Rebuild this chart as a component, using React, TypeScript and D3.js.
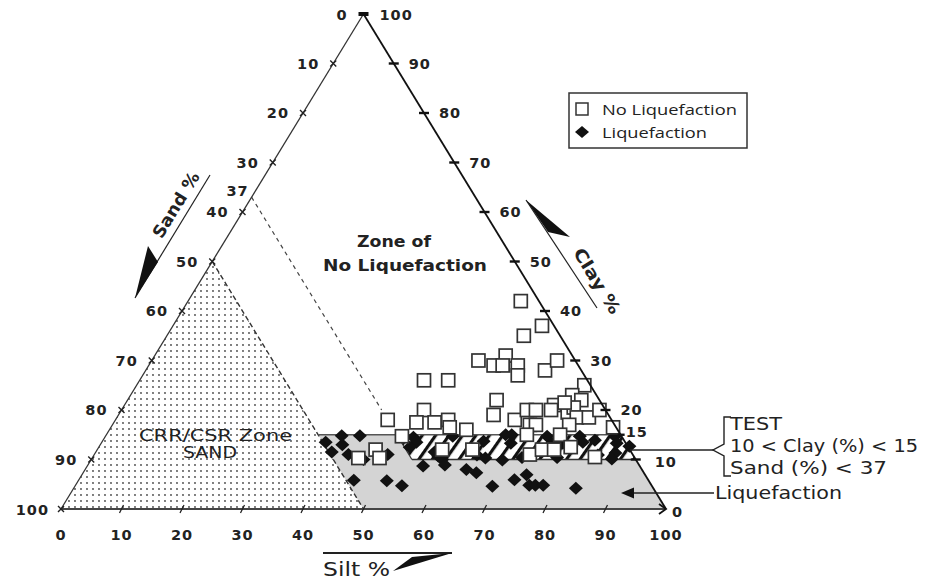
import React from "react";
import * as d3 from "d3";

// ---- axis ticks / labels ----
const siltTicks = [0, 10, 20, 30, 40, 50, 60, 70, 80, 90, 100];
const sandTicks = [10, 20, 30, 40, 50, 60, 70, 80, 90, 100];
const clayTicks = [10, 20, 30, 40, 50, 60, 70, 80, 90];
const sandLabels = [10, 20, 30, 40, 50, 60, 70, 80, 90];
const clayLabels = [20, 30, 40, 50, 60, 70, 80, 90];

// ---- zone limits (percent) ----
const sandLimitCRR = 50;
const sandLimitTest = 37;
const clayUpper = 15;
const clayLower = 10;
const dashedClayEnd = 20;

// ---- data: [silt %, clay %] ----
const noLiquefaction: [number, number][] = [
  [55, 42], [61, 37], [59, 35], [54, 30], [57, 29], [58, 31], [58.5, 29], [61, 29], [62, 27], [66, 28], [67, 30],
  [47, 26], [51, 26], [61, 22], [74, 25], [73, 23], [75, 22], [71, 21], [62, 19], [50, 20], [45, 18], [66, 18],
  [67, 20], [68.5, 20], [69, 17], [70, 17], [74, 19.5], [74.5, 20.5], [72.5, 21.5], [76, 18.5], [78, 18.5],
  [79, 20], [83, 16.5], [50, 17.5], [53, 17.5], [55, 18], [56, 16.5], [59, 16], [71, 20], [75.5, 17],
  [69.5, 15], [75, 15], [78, 12.5], [72, 11], [73.5, 12], [75.5, 12], [83, 10.5], [49, 14.7], [46, 12],
  [44, 10.3], [47.5, 10.3], [57, 12], [62, 12],
];
const liquefaction: [number, number][] = [
  [37, 13.5], [39, 14.8], [40, 13], [42, 14.8], [39, 11.5], [42, 11], [45, 10], [48.5, 11], [45.5, 5.8], [51, 5.7],
  [54, 4.7], [55.5, 8.7], [51, 14.5], [52, 13.5], [51.4, 12.5], [56, 11.5], [57, 10.7], [58, 10], [59, 8.9],
  [57.4, 14.7], [63, 8], [65, 7.3], [63, 13.7], [63.3, 10.9], [65, 10.3], [69, 4.6], [66, 15], [67.7, 13.3],
  [68, 9.9], [72, 5.9], [71, 10.4], [73.5, 6.9], [75, 4.8], [76, 4.8], [77.3, 4.8], [73, 14.7], [74.5, 13.3],
  [73.7, 11.5], [76.8, 10.4], [76.3, 13.3], [83, 4.2], [78.4, 14.7], [79.5, 13.5], [81.3, 13.9], [84.2, 14.7],
  [86, 11.3], [83.3, 10.9], [87.6, 12.7], [86, 10.1], [85.2, 13.3], [67, 15],
];

const FONT = "'DejaVu Sans', Verdana, sans-serif";

export default function App() {
  const x = d3.scaleLinear().domain([0, 100]).range([61, 666]);
  const y = d3.scaleLinear().domain([0, 100]).range([509, 14]);
  const P = (silt: number, clay: number): [number, number] => [x(silt + clay / 2), y(clay)];
  const S = (sand: number, clay: number): [number, number] => P(100 - sand - clay, clay);
  const line = d3.line();
  const poly = (pts: [number, number][]) => line(pts) + "Z";

  const top = P(0, 100);
  const bl = P(0, 0);
  const br = P(100, 0);

  const dotted = poly([P(0, 0), S(sandLimitCRR, 100 - sandLimitCRR), S(sandLimitCRR, 0)]);
  const gray = poly([S(sandLimitCRR, clayUpper), P(100 - clayUpper, clayUpper), P(100, 0), S(sandLimitCRR, 0)]);
  const hatch = poly([S(sandLimitTest, clayUpper), P(100 - clayUpper, clayUpper), P(100 - clayLower, clayLower), S(sandLimitTest, clayLower)]);

  const edgeAngle = (Math.atan2(top[1] - bl[1], top[0] - bl[0]) * 180) / Math.PI; // ~ -58.6

  return (
    <svg width={926} height={579} style={{ position: "absolute", left: 0, top: 0, background: "#fff" }} fontFamily={FONT}>
      <defs>
        <pattern id="dots" width={6} height={6} patternUnits="userSpaceOnUse">
          <rect width={6} height={6} fill="#fff" />
          <circle cx={3} cy={3} r={0.9} fill="#444" />
        </pattern>
        <pattern id="hatch" width={11} height={11} patternUnits="userSpaceOnUse" patternTransform="rotate(35)">
          <rect width={11} height={11} fill="#fff" />
          <rect x={0} y={0} width={3.2} height={11} fill="#111" />
        </pattern>
      </defs>
      <rect width={926} height={579} fill="#fff" />

      {/* zones */}
      <path d={dotted} fill="url(#dots)" />
      <path d={gray} fill="#d4d4d4" />
      <path d={hatch} fill="url(#hatch)" />

      {/* zone boundary lines */}
      <path d={line([S(sandLimitCRR, 100 - sandLimitCRR), S(sandLimitCRR, 0)])!} stroke="#333" strokeWidth={1.4} strokeDasharray="5,3" fill="none" />
      <path d={line([S(sandLimitTest, 100 - sandLimitTest), S(sandLimitTest, dashedClayEnd)])!} stroke="#444" strokeWidth={1.2} strokeDasharray="4,4" fill="none" />
      <path d={line([S(sandLimitCRR, clayUpper), P(100 - clayUpper, clayUpper)])!} stroke="#555" strokeWidth={1.6} fill="none" />
      <path d={line([S(sandLimitTest, clayLower), P(100 - clayLower, clayLower)])!} stroke="#333" strokeWidth={1.4} fill="none" />
      <path d={line([S(sandLimitTest, clayUpper), S(sandLimitTest, clayLower)])!} stroke="#333" strokeWidth={1.2} fill="none" />

      {/* data points */}
      {liquefaction.map(([s, c], i) => {
        const [px, py] = P(s, c);
        return <path key={"l" + i} d={`M${px},${py - 6.5}L${px + 7},${py}L${px},${py + 6.5}L${px - 7},${py}Z`} fill="#111" />;
      })}
      {noLiquefaction.map(([s, c], i) => {
        const [px, py] = P(s, c);
        return <rect key={"n" + i} x={px - 6.5} y={py - 6.5} width={13} height={13} fill="#fff" stroke="#333" strokeWidth={1.7} />;
      })}

      {/* triangle edges */}
      <path d={line([bl, top])!} stroke="#333" strokeWidth={1.3} fill="none" />
      <path d={line([top, br])!} stroke="#111" strokeWidth={1.8} fill="none" />
      <path d={line([bl, br])!} stroke="#444" strokeWidth={2} fill="none" />

      {/* ticks */}
      {siltTicks.slice(1, -1).map((t) => {
        const [px, py] = P(t, 0);
        return <path key={"st" + t} d={`M${px - 2},${py + 4}L${px + 2},${py - 4}`} stroke="#222" strokeWidth={1.3} />;
      })}
      {sandTicks.map((t) => {
        const [px, py] = S(t, 100 - t);
        return <path key={"sa" + t} d={`M${px - 3},${py - 3}L${px + 3},${py + 3}M${px - 3},${py + 3}L${px + 3},${py - 3}`} stroke="#222" strokeWidth={1.4} />;
      })}
      {clayTicks.map((t) => {
        const [px, py] = P(100 - t, t);
        return <path key={"ct" + t} d={`M${px - 5},${py}L${px + 5},${py}`} stroke="#111" strokeWidth={2.4} />;
      })}
      {(() => {
        const [px, py] = P(100 - clayUpper, clayUpper);
        return <path d={`M${px - 3},${py}L${px + 4},${py}`} stroke="#111" strokeWidth={2.4} />;
      })()}
      <path d={`M${top[0] - 5},${top[1]}L${top[0] + 5},${top[1]}`} stroke="#111" strokeWidth={4} />
      <path d={`M${br[0] - 7},${br[1] - 5}L${br[0]},${br[1]}L${br[0] - 7},${br[1] + 5}`} stroke="#111" strokeWidth={1.8} fill="none" />

      {/* tick labels */}
      <g fontWeight="bold" fontSize={14.5} fill="#222" letterSpacing={1}>
        {siltTicks.map((t) => {
          const [px, py] = P(t, 0);
          return <text key={"sl" + t} x={px} y={py + 31} textAnchor="middle">{t}</text>;
        })}
        {sandLabels.map((t) => {
          const [px, py] = S(t, 100 - t);
          return <text key={"sal" + t} x={px - 14} y={py + 5} textAnchor="end">{t}</text>;
        })}
        {(() => {
          const [px, py] = S(100, 0);
          return <text x={px - 12} y={py + 6} textAnchor="end">100</text>;
        })()}
        {(() => {
          const [px, py] = S(sandLimitTest, 100 - sandLimitTest);
          return <text x={px - 3} y={py - 1} textAnchor="end">{sandLimitTest}</text>;
        })()}
        {clayLabels.map((t) => {
          const [px, py] = P(100 - t, t);
          return <text key={"cl" + t} x={px + 15} y={py + 5}>{t}</text>;
        })}
        {(() => {
          const [px, py] = P(100 - clayUpper, clayUpper);
          return <text x={px + 5} y={py + 2}>{clayUpper}</text>;
        })()}
        {(() => {
          const [px, py] = P(100 - clayLower, clayLower);
          return <text x={px + 19} y={py + 7}>{clayLower}</text>;
        })()}
        <text x={top[0] - 16} y={top[1] + 6} textAnchor="end">0</text>
        <text x={top[0] + 16} y={top[1] + 6}>100</text>
        <text x={br[0] + 6} y={br[1] + 8}>0</text>
      </g>

      {/* zone texts */}
      <text x={357} y={247} fontWeight="bold" fontSize={15} fill="#222" textLength={74} lengthAdjust="spacingAndGlyphs">Zone of</text>
      <text x={323} y={271} fontWeight="bold" fontSize={15} fill="#222" textLength={164} lengthAdjust="spacingAndGlyphs">No Liquefaction</text>
      <text x={139} y={441} fontSize={16} fill="#222" textLength={153} lengthAdjust="spacingAndGlyphs">CRR/CSR Zone</text>
      <text x={183} y={458} fontSize={15} fill="#222" textLength={54} lengthAdjust="spacingAndGlyphs">SAND</text>

      {/* legend */}
      <rect x={569} y={93} width={178} height={55} fill="#fff" stroke="#333" strokeWidth={1.5} />
      <rect x={576} y={103} width={12} height={12} fill="#fff" stroke="#333" strokeWidth={1.5} />
      <path d="M582,126L589,132L582,138L575,132Z" fill="#111" />
      <text x={602} y={115} fontSize={14} fill="#222" fontFamily="'Open Sans', sans-serif" textLength={135} lengthAdjust="spacingAndGlyphs">No Liquefaction</text>
      <text x={602} y={138} fontSize={14} fill="#222" fontFamily="'Open Sans', sans-serif" textLength={105} lengthAdjust="spacingAndGlyphs">Liquefaction</text>

      {/* axis titles with arrows */}
      <path d="M210,175L135,298" stroke="#222" strokeWidth={1.2} />
      <path d="M135,298L148,246L158,262Z" fill="#111" />
      <text transform={`translate(181,208) rotate(${edgeAngle})`} textAnchor="middle" fontWeight="bold" fontSize={17} fill="#222" textLength={74} lengthAdjust="spacingAndGlyphs">Sand %</text>

      <path d="M526,200L597,308" stroke="#222" strokeWidth={1.2} />
      <path d="M526,200L570,237L548,232Z" fill="#111" />
      <text transform={`translate(592,284) rotate(${-edgeAngle})`} textAnchor="middle" fontWeight="bold" fontSize={17} fill="#222" textLength={74} lengthAdjust="spacingAndGlyphs">Clay %</text>

      <path d="M323,553L452,553" stroke="#222" strokeWidth={1.8} />
      <path d="M393,571L452,553L412,557Z" fill="#111" />
      <text x={323} y={576} fontSize={19} fill="#222" textLength={67} lengthAdjust="spacingAndGlyphs">Silt %</text>

      {/* TEST annotation */}
      <path d={`M${P(100 - 11.9, 11.9)[0]},450L714,450`} stroke="#222" strokeWidth={1.4} />
      <path d="M731,417L724,417L724,444L713,450L724,456L724,476L731,476" stroke="#222" strokeWidth={1.4} fill="none" />
      <text x={730} y={430} fontSize={18} fill="#222" textLength={52} lengthAdjust="spacingAndGlyphs">TEST</text>
      <text x={730} y={452} fontSize={18} fill="#222" textLength={188} lengthAdjust="spacingAndGlyphs">10 &lt; Clay (%) &lt; 15</text>
      <text x={730} y={474} fontSize={18} fill="#222" textLength={157} lengthAdjust="spacingAndGlyphs">Sand (%) &lt; 37</text>

      {/* Liquefaction pointer */}
      <path d="M714,493L630,493" stroke="#222" strokeWidth={1.6} />
      <path d="M621,493L634,487.5L634,498.5Z" fill="#111" />
      <text x={715} y={499} fontSize={18} fill="#222" textLength={127} lengthAdjust="spacingAndGlyphs">Liquefaction</text>
    </svg>
  );
}
